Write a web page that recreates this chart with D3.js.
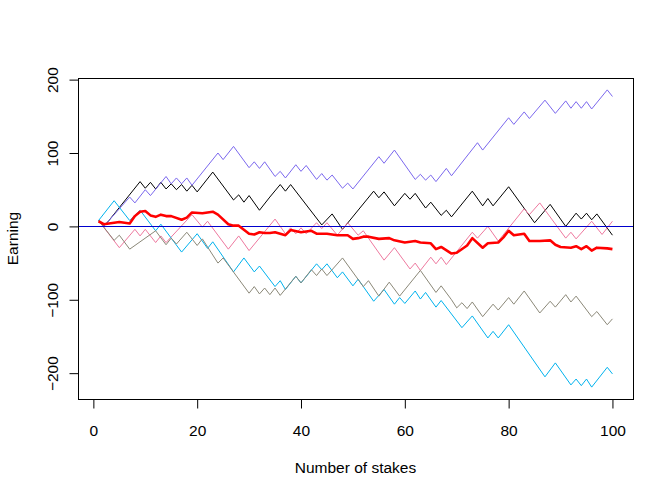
<!DOCTYPE html>
<html><head><meta charset="utf-8">
<script src="https://cdn.jsdelivr.net/npm/d3@7"></script>
<style>
body{margin:0;background:#fff}
svg{display:block}
text{font-family:"Liberation Sans",Arial,Helvetica,sans-serif;fill:#000}
</style>
</head><body>
<svg id="chart" width="672" height="497"></svg>
<script>
// ---- data: vertices [stake, earning] of each simulated walk ----
const purpleWalk = [[1,8],[2,0],[7,40],[8,32],[10,50],[11,42],[14,68],[15,58],[16,66],[17,58],[18,66],[19,56],[24,100],[25,91],[27,109],[30,80],[31,88],[32,79],[33,88],[35,68],[36,75],[37,66],[39,84],[40,75],[41,83],[43,64],[44,72],[45,63],[46,70],[48,52],[49,59],[50,51],[55,95],[56,86],[58,104],[62,64],[63,71],[64,63],[65,70],[66,61],[68,79],[69,69],[74,114],[75,104],[80,148],[81,139],[83,156],[84,147],[87,172],[89,154],[91,171],[92,161],[93,170],[94,161],[95,170],[96,160],[99,186],[100,177]];
const blackWalk = [[1,8],[2,0],[3,8],[9,61],[10,52],[11,60],[12,51],[13,60],[14,51],[15,58],[16,50],[17,57],[18,48],[19,56],[20,47],[23,74],[27,36],[28,43],[29,33],[30,42],[32,22],[34,40],[36,57],[37,48],[38,57],[44,2],[46,17],[48,-4],[54,48],[55,39],[56,47],[58,28],[60,45],[61,37],[62,45],[64,25],[65,33],[67,15],[68,22],[69,13],[73,48],[75,28],[76,38],[77,28],[80,54],[85,5],[88,30],[91,0],[93,18],[94,10],[95,18],[96,9],[97,17],[100,-12]];
const pinkWalk = [[1,8],[5,-29],[8,-4],[9,-13],[10,-4],[12,-22],[13,-13],[14,-22],[19,16],[21,-1],[22,7],[26,-31],[28,-13],[30,-33],[35,10],[37,-10],[38,-2],[39,-10],[40,-2],[41,-10],[43,5],[44,-3],[45,5],[47,-12],[49,5],[51,-12],[52,-6],[56,-46],[58,-29],[61,-58],[62,-50],[63,-60],[65,-42],[66,-51],[67,-42],[68,-52],[73,-8],[74,-16],[76,0],[78,-20],[83,24],[84,16],[86,32],[91,-16],[92,-8],[93,-17],[96,7],[98,-11],[100,7]];
const cyanWalk = [[1,8],[4,35],[7,8],[9,22],[12,-6],[13,3],[17,-35],[20,-10],[22,-30],[23,-21],[27,-62],[29,-43],[31,-62],[32,-54],[35,-82],[36,-74],[37,-86],[39,-68],[40,-77],[43,-51],[44,-59],[45,-51],[47,-70],[48,-62],[50,-81],[51,-72],[54,-102],[56,-86],[58,-106],[59,-97],[60,-105],[62,-88],[63,-99],[64,-90],[66,-110],[67,-101],[71,-138],[73,-122],[76,-152],[77,-143],[78,-152],[80,-134],[87,-205],[89,-186],[92,-216],[93,-208],[94,-217],[95,-208],[96,-219],[99,-192],[100,-201]];
const grayWalk = [[1,8],[4,-19],[5,-12],[7,-31],[12,-6],[14,-25],[15,-16],[16,-24],[18,-8],[20,-26],[21,-17],[24,-50],[25,-43],[30,-91],[31,-82],[32,-92],[33,-84],[34,-93],[35,-84],[36,-94],[39,-68],[40,-77],[42,-59],[43,-67],[44,-58],[45,-67],[48,-43],[52,-82],[53,-74],[55,-95],[57,-76],[59,-95],[63,-60],[66,-90],[67,-81],[69,-100],[70,-111],[71,-104],[72,-112],[73,-103],[75,-123],[77,-106],[78,-114],[80,-97],[81,-106],[83,-88],[86,-118],[88,-102],[89,-110],[91,-93],[92,-103],[93,-95],[96,-123],[97,-116],[99,-134],[100,-126]];
const meanWalk = [[1,7],[2,3],[3,4],[5,6],[7,4],[8,14],[9,20],[10,21],[11,15],[12,13],[13,16],[14,14],[15,14],[17,9],[18,12],[19,19],[21,18],[22,19],[23,20],[24,16],[26,3],[27,1],[28,1],[30,-10],[31,-11],[32,-8],[33,-9],[34,-9],[35,-8],[37,-12],[38,-5],[40,-8],[42,-6],[43,-10],[45,-10],[47,-12],[49,-12],[50,-17],[51,-16],[52,-14],[53,-14],[55,-17],[57,-16],[58,-19],[60,-22],[62,-20],[63,-22],[65,-23],[66,-31],[67,-28],[69,-37],[70,-36],[72,-26],[73,-16],[75,-29],[76,-23],[78,-22],[79,-15],[80,-6],[81,-12],[83,-10],[84,-20],[86,-20],[88,-19],[89,-25],[90,-28],[92,-29],[93,-27],[94,-31],[95,-27],[96,-33],[97,-29],[99,-30],[100,-31]];

const xTicks = [0,20,40,60,80,100];
const yTicks = [-200,-100,0,100,200];
const xTitle = "Number of stakes";
const yTitle = "Earning";

const walks = [
  {data: blackWalk,  color: "#000000"},
  {data: purpleWalk, color: "#7B68EE"},
  {data: pinkWalk,   color: "#EE799F"},
  {data: cyanWalk,   color: "#00B2EE"},
  {data: grayWalk,   color: "#8B8878"}
];

// ---- layout ----
const L = 78, R = 633, T = 78, B = 399;
const svg = d3.select("#chart");

const all = [purpleWalk, blackWalk, pinkWalk, cyanWalk, grayWalk, meanWalk].flat();
const xe = d3.extent(all, d => d[0]);
const ye = d3.extent(all, d => d[1]);
const xp = (xe[1]-xe[0])*0.04, yp = (ye[1]-ye[0])*0.04;
const x = d3.scaleLinear().domain([xe[0]-xp, xe[1]+xp]).range([L, R]);
const y = d3.scaleLinear().domain([ye[0]-yp, ye[1]+yp]).range([B, T]);

const line = d3.line().x(d => x(d[0])).y(d => y(d[1]));

const plot = svg.append("g");
walks.forEach(w => {
  plot.append("path").datum(w.data)
    .attr("fill","none").attr("stroke",w.color).attr("stroke-width",1)
    .attr("d",line);
});
// zero line
plot.append("line")
  .attr("x1",L).attr("x2",R).attr("y1",Math.round(y(0))+0.5).attr("y2",Math.round(y(0))+0.5)
  .attr("stroke","#0000CD").attr("stroke-width",1);
// mean
plot.append("path").datum(meanWalk)
  .attr("fill","none").attr("stroke","#FF0000").attr("stroke-width",2.6)
  .attr("stroke-linejoin","round").attr("d",line);

// box
svg.append("rect").attr("x",L+0.5).attr("y",T+0.5).attr("width",R-L).attr("height",B-T)
  .attr("fill","none").attr("stroke","#000").attr("stroke-width",1);

// axes
const fs = "15.5px";
const gx = svg.append("g").attr("transform",`translate(0,${B+0.5})`)
  .call(d3.axisBottom(x).tickValues(xTicks).tickSize(9).tickSizeOuter(0).tickFormat(d3.format("d")));
gx.select(".domain").remove();
gx.selectAll(".tick line").attr("stroke","#000");
gx.selectAll("text").attr("y",36).attr("dy",0).style("font-size",fs).attr("fill","#000");
svg.append("line").attr("x1",x(xTicks[0])).attr("x2",x(xTicks[xTicks.length-1]))
  .attr("y1",B+0.5).attr("y2",B+0.5).attr("stroke","#000");

const gy = svg.append("g").attr("transform",`translate(${L+0.5},0)`)
  .call(d3.axisLeft(y).tickValues(yTicks).tickSize(9).tickSizeOuter(0).tickFormat(d3.format("d")));
gy.select(".domain").remove();
gy.selectAll(".tick line").attr("stroke","#000");
gy.selectAll("text").attr("x",null).attr("dy",0).attr("text-anchor","middle")
  .attr("transform","translate(-21,0) rotate(-90)").style("font-size",fs).attr("fill","#000");

svg.append("text").attr("x",(L+R)/2).attr("y",473).attr("text-anchor","middle")
  .style("font-size",fs).text(xTitle);
svg.append("text").attr("transform",`translate(18,${(T+B)/2}) rotate(-90)`)
  .attr("text-anchor","middle").style("font-size",fs).text(yTitle);
</script>
</body></html>
